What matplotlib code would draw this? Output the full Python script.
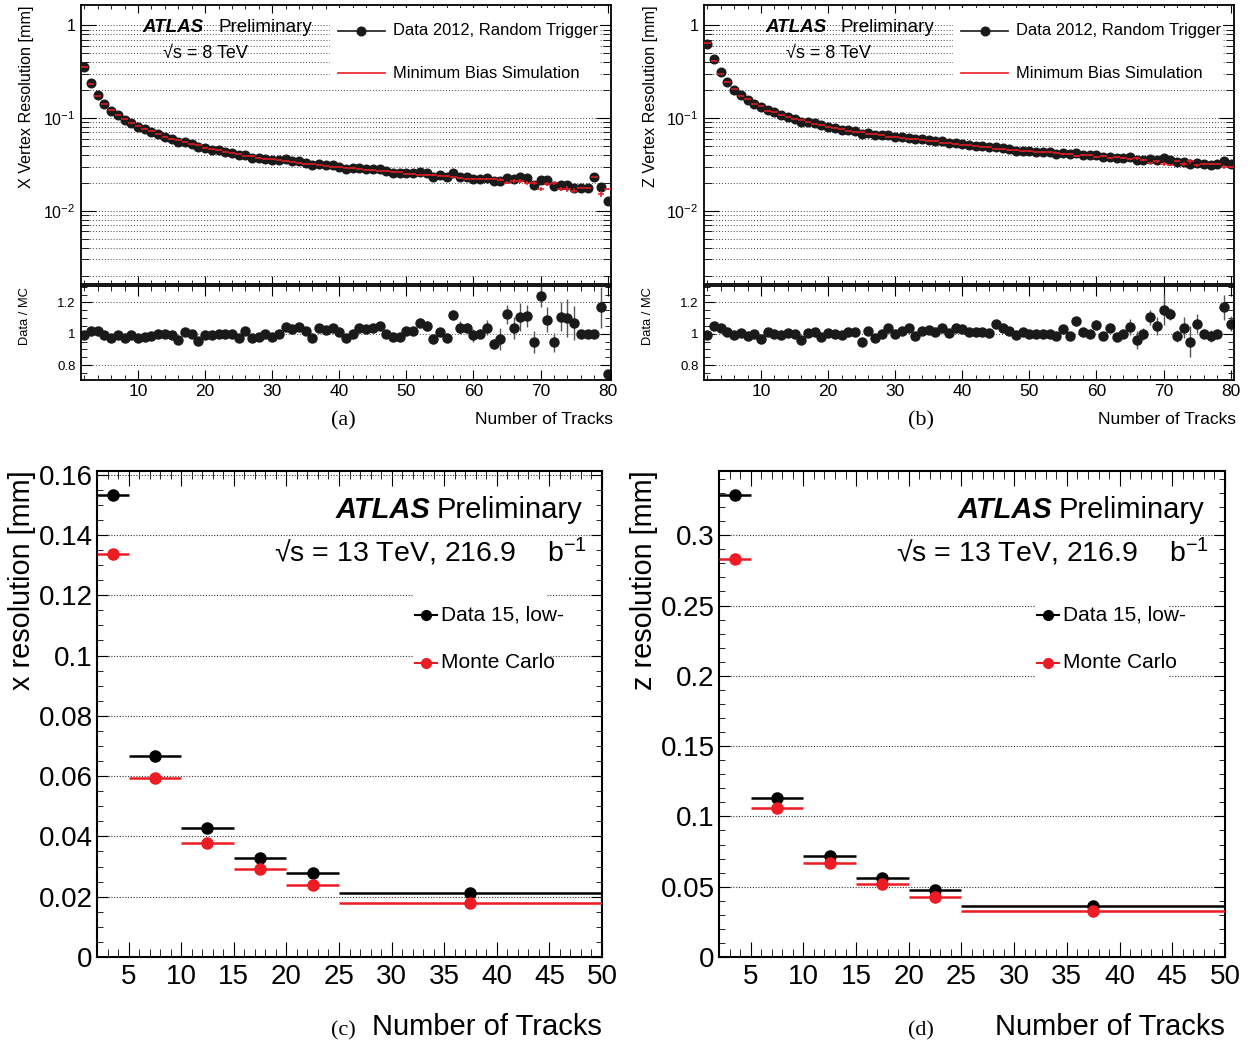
import matplotlib
matplotlib.use('Agg')
import matplotlib.pyplot as plt
from matplotlib.patches import Rectangle
from matplotlib.ticker import MultipleLocator, FixedLocator, LogLocator, NullFormatter, FuncFormatter
import numpy as np

plt.rcParams['font.family'] = ['Liberation Sans', 'DejaVu Sans']
plt.rcParams['mathtext.fontset'] = 'custom'
plt.rcParams['mathtext.rm'] = 'Liberation Sans'
plt.rcParams['mathtext.it'] = 'Liberation Sans:italic'
plt.rcParams['mathtext.bf'] = 'Liberation Sans:bold'

W, H = 1250, 1050
RED = '#ec1c24'

# ---- 8 TeV vertex resolution vs number of tracks (N = 2..80) ----
n_tracks = np.arange(2, 81)

mc_x = [0.360, 0.236, 0.172, 0.143, 0.122, 0.108, 0.097, 0.0885, 0.083,
        0.077, 0.072, 0.067, 0.063, 0.060, 0.058, 0.055, 0.052, 0.051, 0.048,
        0.046, 0.045, 0.043, 0.042, 0.041, 0.039, 0.0385, 0.0375, 0.0365, 0.036,
        0.0352, 0.0342, 0.0335, 0.0328, 0.032, 0.0318, 0.031, 0.0304, 0.0298, 0.0295,
        0.0292, 0.0287, 0.0281, 0.0277, 0.0273, 0.0268, 0.0266, 0.0263, 0.0259, 0.0252,
        0.0250, 0.0246, 0.0244, 0.0242, 0.0239, 0.0236, 0.0229, 0.0225, 0.0222, 0.0222,
        0.0220, 0.0219, 0.0222, 0.0216, 0.0201, 0.0210, 0.0210, 0.0200, 0.0200, 0.0171,
        0.0195, 0.0198, 0.0172, 0.0172, 0.0165, 0.0176, 0.0176, 0.0232, 0.0153, 0.0171]
ratio_x = [0.99, 1.015, 1.02, 0.99, 0.97, 0.99, 0.975, 0.99, 0.97,
           0.98, 0.985, 1.0, 1.0, 0.99, 0.96, 1.01, 1.0, 0.955, 0.99,
           0.99, 1.0, 1.0, 1.0, 0.975, 1.02, 0.975, 0.98, 1.0, 0.98,
           1.0, 1.045, 1.03, 1.045, 1.015, 0.975, 1.04, 1.025, 1.04, 1.01,
           0.97, 1.0, 1.035, 1.03, 1.035, 1.05, 1.0, 0.98, 0.98, 1.02,
           1.015, 1.07, 1.05, 0.965, 1.01, 0.975, 1.12, 1.04, 1.04, 0.99,
           1.0, 1.04, 0.935, 0.965, 1.125, 1.035, 1.105, 1.115, 0.947, 1.24,
           1.09, 0.945, 1.11, 1.10, 1.07, 1.0, 1.0, 1.0, 1.17, 0.745]
ratio_x_err = [0.006, 0.006, 0.006, 0.006, 0.006, 0.006, 0.006, 0.006, 0.006,
               0.007, 0.007, 0.007, 0.007, 0.007, 0.007, 0.007, 0.007, 0.007, 0.007,
               0.008, 0.008, 0.008, 0.008, 0.008, 0.008, 0.008, 0.008, 0.008, 0.008,
               0.01, 0.01, 0.01, 0.01, 0.01, 0.01, 0.01, 0.01, 0.01, 0.01,
               0.012, 0.012, 0.013, 0.014, 0.015, 0.015, 0.016, 0.017, 0.018, 0.02,
               0.02, 0.03, 0.03, 0.03, 0.03, 0.03, 0.03, 0.04, 0.03, 0.04,
               0.03, 0.05, 0.03, 0.07, 0.06, 0.07, 0.09, 0.07, 0.07, 0.07,
               0.08, 0.06, 0.09, 0.12, 0.11, 0.01, 0.01, 0.01, 0.13, 0.02]

mc_z = [0.638, 0.417, 0.300, 0.243, 0.205, 0.175, 0.160, 0.143, 0.136,
        0.120, 0.115, 0.108, 0.102, 0.097, 0.095, 0.090, 0.087, 0.085, 0.080,
        0.078, 0.076, 0.073, 0.071, 0.071, 0.068, 0.068, 0.066, 0.063, 0.063,
        0.061, 0.059, 0.060, 0.058, 0.057, 0.056, 0.054, 0.054, 0.052, 0.051,
        0.051, 0.050, 0.049, 0.049, 0.046, 0.046, 0.045, 0.045, 0.044, 0.044,
        0.043, 0.043, 0.043, 0.042, 0.041, 0.041, 0.039, 0.040, 0.040, 0.038,
        0.039, 0.037, 0.038, 0.037, 0.036, 0.037, 0.035, 0.033, 0.034, 0.032,
        0.031, 0.034, 0.032, 0.034, 0.031, 0.032, 0.032, 0.032, 0.0295, 0.0298]
ratio_z = [0.995, 1.05, 1.035, 1.01, 0.99, 1.005, 0.985, 1.0, 0.965,
           1.01, 1.0, 0.99, 1.005, 1.0, 0.96, 1.005, 1.01, 0.98, 1.005,
           1.0, 0.99, 1.01, 1.01, 0.95, 1.02, 0.97, 1.0, 1.035, 1.0,
           1.015, 1.035, 0.987, 1.02, 1.025, 1.01, 1.035, 1.005, 1.035, 1.03,
           1.01, 1.01, 1.01, 1.005, 1.06, 1.04, 1.02, 0.99, 1.01, 1.0,
           1.0, 1.0, 1.0, 0.985, 1.03, 0.987, 1.08, 1.01, 1.0, 1.055,
           0.985, 1.04, 0.977, 1.0, 1.045, 0.96, 1.0, 1.105, 1.05, 1.155,
           1.125, 0.987, 1.04, 0.95, 1.065, 1.0, 0.985, 1.0, 1.17, 1.065]
ratio_z_err = [0.006, 0.006, 0.006, 0.006, 0.006, 0.006, 0.006, 0.006, 0.006,
               0.007, 0.007, 0.007, 0.007, 0.007, 0.007, 0.007, 0.007, 0.007, 0.007,
               0.008, 0.008, 0.008, 0.008, 0.008, 0.008, 0.008, 0.008, 0.008, 0.008,
               0.01, 0.01, 0.01, 0.01, 0.01, 0.01, 0.01, 0.01, 0.01, 0.01,
               0.012, 0.012, 0.013, 0.014, 0.015, 0.015, 0.016, 0.017, 0.018, 0.018,
               0.02, 0.02, 0.02, 0.02, 0.025, 0.025, 0.03, 0.03, 0.025, 0.03,
               0.025, 0.03, 0.025, 0.03, 0.05, 0.06, 0.04, 0.05, 0.06, 0.10,
               0.04, 0.04, 0.07, 0.10, 0.06, 0.03, 0.04, 0.02, 0.08, 0.05]

# ---- 13 TeV binned resolution ----
bin_lo = np.array([2, 5, 10, 15, 20, 25])
bin_hi = np.array([5, 10, 15, 20, 25, 50])
res_x_data = [0.1532, 0.0668, 0.0427, 0.0330, 0.0277, 0.0211]
res_x_mc = [0.1336, 0.0593, 0.0377, 0.0291, 0.0240, 0.0178]
res_z_data = [0.3287, 0.1133, 0.0721, 0.0564, 0.0476, 0.0365]
res_z_mc = [0.2832, 0.1057, 0.0671, 0.0517, 0.0430, 0.0327]

fig = plt.figure(figsize=(W / 100, H / 100), dpi=100)


def add_ax(rect):
    l, t, r, b = rect
    return fig.add_axes([l / W, 1 - b / H, (r - l) / W, (b - t) / H])


def to_ax(rect, x, y):
    l, t, r, b = rect
    return (x - l) / (r - l), (b - y) / (b - t)


def ftext(x, y, s, **kw):
    fig.text(x / W, 1 - y / H, s, **kw)


def white_box(ax, rect, x0, y0, x1, y1):
    a0 = to_ax(rect, x0, y1)
    a1 = to_ax(rect, x1, y0)
    ax.add_patch(Rectangle(a0, a1[0] - a0[0], a1[1] - a0[1], transform=ax.transAxes,
                           facecolor='white', edgecolor='none', zorder=1))


def legend_row(ax, rect, x0, x1, y, color, label, fs, ms=None, lw=1.2, gap=6):
    a0 = to_ax(rect, x0, y)
    a1 = to_ax(rect, x1, y)
    ax.plot([a0[0], a1[0]], [a0[1], a1[1]], color=color, lw=lw, transform=ax.transAxes,
            zorder=6, clip_on=False)
    if ms:
        ax.plot([(a0[0] + a1[0]) / 2], [a0[1]], 'o', color=color, ms=ms,
                transform=ax.transAxes, zorder=6, clip_on=False)
    ftext(x1 + gap, y, label, fontsize=fs, va='center', ha='left')


def log_label(v, pos):
    if abs(v - 1) < 1e-9:
        return '1'
    return r'$10^{%d}$' % int(round(np.log10(v)))


def vertex_panel(left, right, mc, ratio, rerr, ylabel, tag, tag_x):
    mc = np.array(mc)
    ratio = np.array(ratio)
    rerr = np.array(rerr)
    data = mc * ratio
    rect_top = (left, 5, right, 284)
    rect_rat = (left, 286, right, 380)
    ax = add_ax(rect_top)
    axr = add_ax(rect_rat)

    ax.set_axisbelow(True)
    ax.set_yscale('log')
    ax.set_xlim(1.5, 80.5)
    ax.set_ylim(0.00162, 1.66)
    ax.yaxis.set_major_locator(LogLocator(base=10))
    ax.yaxis.set_minor_locator(LogLocator(base=10, subs=np.arange(2, 10)))
    ax.yaxis.set_major_formatter(FuncFormatter(log_label))
    ax.yaxis.set_minor_formatter(NullFormatter())
    ax.xaxis.set_major_locator(MultipleLocator(10))
    ax.xaxis.set_minor_locator(MultipleLocator(2))
    ax.yaxis.grid(True, which='both', ls=(0, (1, 2)), color='#444444', lw=0.7)
    ax.tick_params(which='both', direction='in', top=True, right=True, labelbottom=False,
                   labelsize=11.5, pad=4)
    ax.tick_params(axis='y', which='major', length=11)
    ax.tick_params(axis='y', which='minor', length=5.5)
    ax.tick_params(axis='x', which='major', length=6)
    ax.tick_params(axis='x', which='minor', length=3)

    ax.errorbar(n_tracks, data, yerr=data * rerr * 0.6, fmt='o', color='#1a1a1a', ms=6.2,
                lw=1, zorder=4)
    ax.errorbar(n_tracks, mc, xerr=0.5, yerr=mc * rerr * 0.6, fmt='none', ecolor=RED,
                lw=1.1, zorder=5)

    white_box(ax, rect_top, left + 249, 8, left + 519, 89)
    legend_row(ax, rect_top, left + 257, left + 304, 31, '#1a1a1a',
               'Data 2012, Random Trigger', 11.9, ms=6.2, gap=8)
    legend_row(ax, rect_top, left + 257, left + 304, 73, RED,
               'Minimum Bias Simulation', 11.9, gap=8)
    ftext(left + 61, 28, 'ATLAS', fontsize=13.5, fontweight='bold', style='italic', va='center')
    ftext(left + 137, 28, 'Preliminary', fontsize=13.5, va='center')
    ftext(left + 82, 53, '√s = 8 TeV', fontsize=13, va='center')

    axr.set_axisbelow(True)
    axr.set_xlim(1.5, 80.5)
    axr.set_ylim(0.705, 1.305)
    axr.yaxis.set_major_locator(FixedLocator([0.8, 1.0, 1.2]))
    axr.yaxis.set_minor_locator(MultipleLocator(0.05))
    axr.yaxis.set_major_formatter(FuncFormatter(lambda v, p: f'{v:g}'))
    axr.xaxis.set_major_locator(MultipleLocator(10))
    axr.xaxis.set_minor_locator(MultipleLocator(2))
    axr.yaxis.grid(True, which='major', ls=(0, (1, 2)), color='#444444', lw=0.7)
    axr.tick_params(which='both', direction='in', top=True, right=True, pad=3)
    axr.tick_params(axis='y', labelsize=9.5, pad=4)
    axr.tick_params(axis='x', labelsize=12.5)
    axr.tick_params(axis='y', which='major', length=8)
    axr.tick_params(axis='y', which='minor', length=4)
    axr.tick_params(axis='x', which='major', length=7)
    axr.tick_params(axis='x', which='minor', length=3.5)
    axr.errorbar(n_tracks, ratio, yerr=rerr, fmt='o', color='#1a1a1a', ms=6.5, lw=1,
                 ecolor='#555555')

    for a in (ax, axr):
        for s in a.spines.values():
            s.set_linewidth(1.3)

    ftext(left - 54, 5, ylabel, rotation=90, ha='center', va='top', fontsize=11.6)
    ftext(left - 56, 287, 'Data / MC', rotation=90, ha='center', va='top', fontsize=9.3)
    ftext(right + 2, 419, 'Number of Tracks', ha='right', va='center', fontsize=12.6)
    ftext(tag_x, 421, tag, ha='center', va='center', fontsize=16, family='Liberation Serif')


def binned_panel(rect, data, mc, ymax, ymaj, ymin, ylabel, tag, tag_x):
    l, t, r, b = rect
    ax = add_ax(rect)
    ax.set_axisbelow(True)
    ax.set_xlim(2, 50)
    ax.set_ylim(0, ymax)
    ax.xaxis.set_major_locator(MultipleLocator(5))
    ax.xaxis.set_minor_locator(MultipleLocator(1))
    ax.yaxis.set_major_locator(MultipleLocator(ymaj))
    ax.yaxis.set_minor_locator(MultipleLocator(ymin))
    ax.yaxis.set_major_formatter(FuncFormatter(lambda v, p: f'{v:g}'))
    ax.yaxis.grid(True, which='major', ls=(0, (1, 1.5)), color='#333333', lw=0.8)
    ax.tick_params(which='both', direction='in', top=True, right=True, labelsize=20)
    ax.tick_params(axis='x', which='major', length=11, pad=5)
    ax.tick_params(axis='x', which='minor', length=5.5)
    ax.tick_params(axis='y', which='major', length=8, pad=3)
    ax.tick_params(axis='y', which='minor', length=4.5)
    for s in ax.spines.values():
        s.set_linewidth(1.5)

    xc = (bin_lo + bin_hi) / 2
    xerr = [xc - bin_lo, bin_hi - xc]
    ax.errorbar(xc, data, xerr=xerr, fmt='o', color='black', ms=8, lw=1.8, zorder=4)
    ax.errorbar(xc, mc, xerr=xerr, fmt='o', color=RED, ms=8, lw=1.8, zorder=4)

    white_box(ax, rect, l + 317, 562, l + 449, 695)
    legend_row(ax, rect, l + 318, l + 340, 615, 'black', 'Data 15, low-', 15, ms=7, lw=1.5,
               gap=4)
    legend_row(ax, rect, l + 318, l + 340, 663, RED, 'Monte Carlo', 15, ms=7, lw=1.5, gap=4)
    ftext(l + 333, 510, 'ATLAS', fontsize=21, fontweight='bold', style='italic',
          ha='right', va='center')
    ftext(l + 340, 510, 'Preliminary', fontsize=21, ha='left', va='center')
    ftext(l + 490, 552, '√s = 13 TeV, 216.9    b$^{-1}$', fontsize=20.5,
          ha='right', va='center')

    ftext(l - 75, 470, ylabel, rotation=90, ha='center', va='top', fontsize=20.8)
    ftext(r, 1027, 'Number of Tracks', ha='right', va='center', fontsize=21)
    ftext(tag_x, 1031, tag, ha='center', va='center', fontsize=16, family='Liberation Serif')


vertex_panel(81, 611, mc_x, ratio_x, ratio_x_err, 'X Vertex Resolution [mm]', '(a)', 343)
vertex_panel(704, 1234, mc_z, ratio_z, ratio_z_err, 'Z Vertex Resolution [mm]', '(b)', 921)
binned_panel((97, 471, 602, 957), res_x_data, res_x_mc, 0.1612, 0.02, 0.005,
             'x resolution [mm]', '(c)', 343)
binned_panel((719, 471, 1225, 957), res_z_data, res_z_mc, 0.3457, 0.05, 0.01,
             'z resolution [mm]', '(d)', 921)

fig.savefig('out.png', dpi=100)
plt.close(fig)
